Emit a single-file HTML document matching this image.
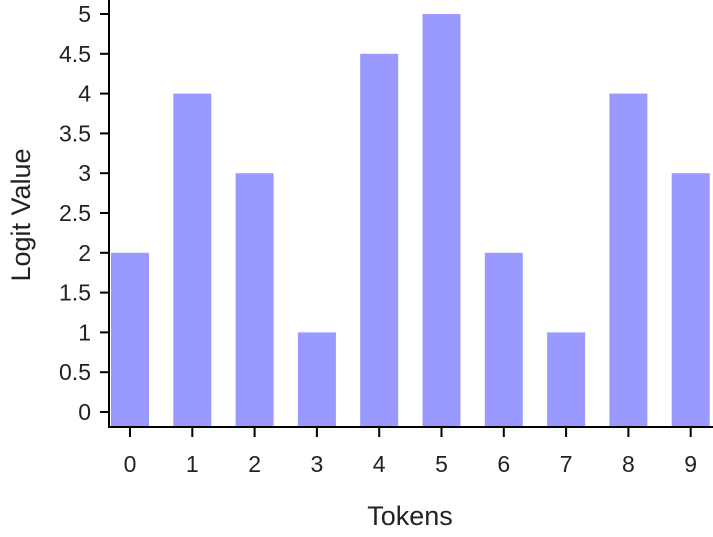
<!DOCTYPE html>
<html><head><meta charset="utf-8"><style>
body{margin:0;background:#fff;}
svg{display:block;font-family:"Liberation Sans",sans-serif;}
</style></head><body>
<svg id="chart" width="713" height="537" viewBox="0 0 713 537"></svg>
<script>
const categories=["0","1","2","3","4","5","6","7","8","9"];
const values=[2,4,3,1,4.5,5,2,1,4,3];
const yTicks=[0,0.5,1,1.5,2,2.5,3,3.5,4,4.5,5];
const ns="http://www.w3.org/2000/svg";
const svg=document.getElementById("chart");
const y0=412,y5=14,axisY=427,axisX=109;
const y=v=>y0+(y5-y0)*v/5;
const x=i=>130+i*62.3;
const bw=38;
function mk(t,a){const e=document.createElementNS(ns,t);for(const k in a)e.setAttribute(k,a[k]);svg.appendChild(e);return e;}
values.forEach((v,i)=>{
 const r=mk("rect",{x:x(i)-bw/2,y:y(v),width:bw,height:axisY-y(v),fill:"#9999ff"});
 
 
});
const ya=mk("line",{x1:axisX,y1:0,x2:axisX,y2:axisY+1,stroke:"#000","stroke-width":2});


const xa=mk("line",{x1:axisX-1,y1:axisY,x2:713,y2:axisY,stroke:"#000","stroke-width":2});


yTicks.forEach(t=>{
 mk("line",{x1:100,y1:y(t),x2:axisX,y2:y(t),stroke:"#000","stroke-width":2});
 const l=mk("text",{x:91,y:y(t)+8,"text-anchor":"end","font-size":23,fill:"#222"});
 l.textContent=String(t);
 
 
});
categories.forEach((c,i)=>{
 mk("line",{x1:x(i),y1:axisY,x2:x(i),y2:437,stroke:"#000","stroke-width":2});
 const l=mk("text",{x:x(i),y:472,"text-anchor":"middle","font-size":23,fill:"#222"});
 l.textContent=c;
 
 
});
const xt=mk("text",{x:410,y:525,"text-anchor":"middle","font-size":27,fill:"#222"});
xt.textContent="Tokens";


const yt=mk("text",{x:0,y:0,"text-anchor":"middle","font-size":27,fill:"#222",transform:"translate(30,215) rotate(-90)"});
yt.textContent="Logit Value";


</script>
</body></html>
